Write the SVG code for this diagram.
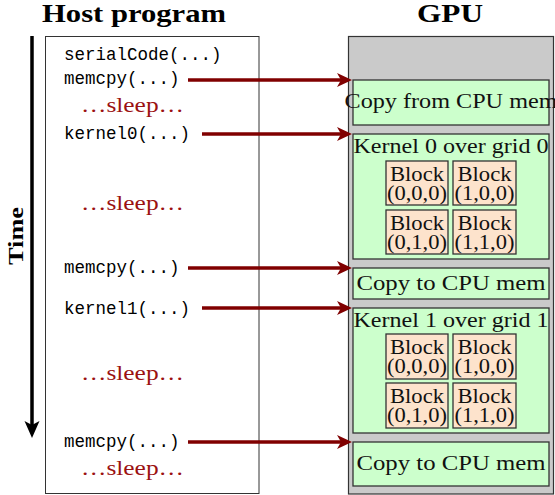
<svg xmlns="http://www.w3.org/2000/svg" width="555" height="495" viewBox="0 0 555 495">
<style>
.title{font-family:"Liberation Serif",serif;font-weight:bold;font-size:25px;fill:#000}
.code{font-family:"Liberation Mono",monospace;font-size:17.5px;fill:#000}
.sleep{font-family:"Liberation Serif",serif;font-size:21px;fill:#9b1111}
.lbl{font-family:"Liberation Serif",serif;font-size:21px;fill:#111;text-anchor:middle}
.blk{font-family:"Liberation Serif",serif;font-size:21px;fill:#111;text-anchor:middle}
.green{fill:#ccffcc;stroke:#333;stroke-width:1.3}
.block{fill:#fde3cc;stroke:#333;stroke-width:1.3}
.conn{stroke:#800000;stroke-width:3.5;fill:none;marker-end:url(#ah)}
</style>
<defs>
<marker id="ah" markerUnits="userSpaceOnUse" markerWidth="16" markerHeight="16" refX="8" refY="7" orient="auto" overflow="visible">
<path d="M0,0 L15,7 L0,14 L4,7 Z" fill="#800000"/>
</marker>
<marker id="ahk" markerUnits="userSpaceOnUse" markerWidth="16" markerHeight="18" refX="8" refY="7.5" orient="auto" overflow="visible">
<path d="M0,0 L17,7.5 L0,15 L4,7.5 Z" fill="#000"/>
</marker>
</defs>

<g id="titles">
<text class="title" x="42" y="22" textLength="184" lengthAdjust="spacingAndGlyphs">Host program</text>
<text class="title" x="450" y="22" text-anchor="middle" textLength="66" lengthAdjust="spacingAndGlyphs">GPU</text>
</g>

<g id="time">
<line x1="32" y1="36" x2="32" y2="429" stroke="#000" stroke-width="3.5" marker-end="url(#ahk)"/>
<text class="title" transform="translate(23,236) rotate(-90)" text-anchor="middle" style="font-size:20px" textLength="58" lengthAdjust="spacingAndGlyphs">Time</text>
</g>

<g id="host">
<rect x="45.5" y="36.5" width="213.5" height="457" fill="#fff" stroke="#333" stroke-width="1"/>
<text class="code" x="64" y="60">serialCode(...)</text>
<text class="code" x="64" y="84">memcpy(...)</text>
<text class="sleep" x="81" y="112" textLength="103" lengthAdjust="spacingAndGlyphs">…sleep…</text>
<text class="code" x="64" y="139">kernel0(...)</text>
<text class="sleep" x="81" y="210" textLength="103" lengthAdjust="spacingAndGlyphs">…sleep…</text>
<text class="code" x="64" y="273">memcpy(...)</text>
<text class="code" x="64" y="314">kernel1(...)</text>
<text class="sleep" x="81" y="380" textLength="103" lengthAdjust="spacingAndGlyphs">…sleep…</text>
<text class="code" x="64" y="447">memcpy(...)</text>
<text class="sleep" x="81" y="475" textLength="103" lengthAdjust="spacingAndGlyphs">…sleep…</text>
</g>

<g id="gpu">
<rect x="348.5" y="36.5" width="205" height="457.5" fill="#cacaca" stroke="#333" stroke-width="1.2"/>
</g>

<g id="copy1">
<rect class="green" x="353" y="80" width="196" height="45"/>
<text class="lbl" x="451" y="108" textLength="213" lengthAdjust="spacingAndGlyphs">Copy from CPU mem</text>
</g>

<g id="kernel0">
<rect class="green" x="353" y="134" width="196" height="125"/>
<text class="lbl" x="451" y="153" textLength="195" lengthAdjust="spacingAndGlyphs">Kernel 0 over grid 0</text>
<g id="k0b000"><rect class="block" x="386" y="161" width="62" height="44"/><text class="blk" x="417" y="181" textLength="54" lengthAdjust="spacingAndGlyphs">Block</text><text class="blk" x="417" y="200" textLength="60" lengthAdjust="spacingAndGlyphs">(0,0,0)</text></g>
<g id="k0b100"><rect class="block" x="453" y="161" width="63" height="44"/><text class="blk" x="484.5" y="181" textLength="54" lengthAdjust="spacingAndGlyphs">Block</text><text class="blk" x="484.5" y="200" textLength="60" lengthAdjust="spacingAndGlyphs">(1,0,0)</text></g>
<g id="k0b010"><rect class="block" x="386" y="210" width="62" height="44"/><text class="blk" x="417" y="230" textLength="54" lengthAdjust="spacingAndGlyphs">Block</text><text class="blk" x="417" y="249" textLength="60" lengthAdjust="spacingAndGlyphs">(0,1,0)</text></g>
<g id="k0b110"><rect class="block" x="453" y="210" width="63" height="44"/><text class="blk" x="484.5" y="230" textLength="54" lengthAdjust="spacingAndGlyphs">Block</text><text class="blk" x="484.5" y="249" textLength="60" lengthAdjust="spacingAndGlyphs">(1,1,0)</text></g>
</g>

<g id="copy2">
<rect class="green" x="353" y="268" width="196" height="31"/>
<text class="lbl" x="451" y="290" textLength="189" lengthAdjust="spacingAndGlyphs">Copy to CPU mem</text>
</g>

<g id="kernel1">
<rect class="green" x="353" y="308" width="196" height="125"/>
<text class="lbl" x="451" y="327" textLength="195" lengthAdjust="spacingAndGlyphs">Kernel 1 over grid 1</text>
<g id="k1b000"><rect class="block" x="386" y="334" width="62" height="45"/><text class="blk" x="417" y="354" textLength="54" lengthAdjust="spacingAndGlyphs">Block</text><text class="blk" x="417" y="373" textLength="60" lengthAdjust="spacingAndGlyphs">(0,0,0)</text></g>
<g id="k1b100"><rect class="block" x="453" y="334" width="63" height="45"/><text class="blk" x="484.5" y="354" textLength="54" lengthAdjust="spacingAndGlyphs">Block</text><text class="blk" x="484.5" y="373" textLength="60" lengthAdjust="spacingAndGlyphs">(1,0,0)</text></g>
<g id="k1b010"><rect class="block" x="386" y="383" width="62" height="45"/><text class="blk" x="417" y="403" textLength="54" lengthAdjust="spacingAndGlyphs">Block</text><text class="blk" x="417" y="422" textLength="60" lengthAdjust="spacingAndGlyphs">(0,1,0)</text></g>
<g id="k1b110"><rect class="block" x="453" y="383" width="63" height="45"/><text class="blk" x="484.5" y="403" textLength="54" lengthAdjust="spacingAndGlyphs">Block</text><text class="blk" x="484.5" y="422" textLength="60" lengthAdjust="spacingAndGlyphs">(1,1,0)</text></g>
</g>

<g id="copy3">
<rect class="green" x="353" y="442" width="196" height="44"/>
<text class="lbl" x="451" y="470" textLength="189" lengthAdjust="spacingAndGlyphs">Copy to CPU mem</text>
</g>

<g id="connectors">
<line class="conn" x1="188" y1="80" x2="345" y2="80"/>
<line class="conn" x1="202" y1="134" x2="345" y2="134"/>
<line class="conn" x1="188" y1="268" x2="345" y2="268"/>
<line class="conn" x1="202" y1="308" x2="345" y2="308"/>
<line class="conn" x1="188" y1="442" x2="345" y2="442"/>
</g>
</svg>
